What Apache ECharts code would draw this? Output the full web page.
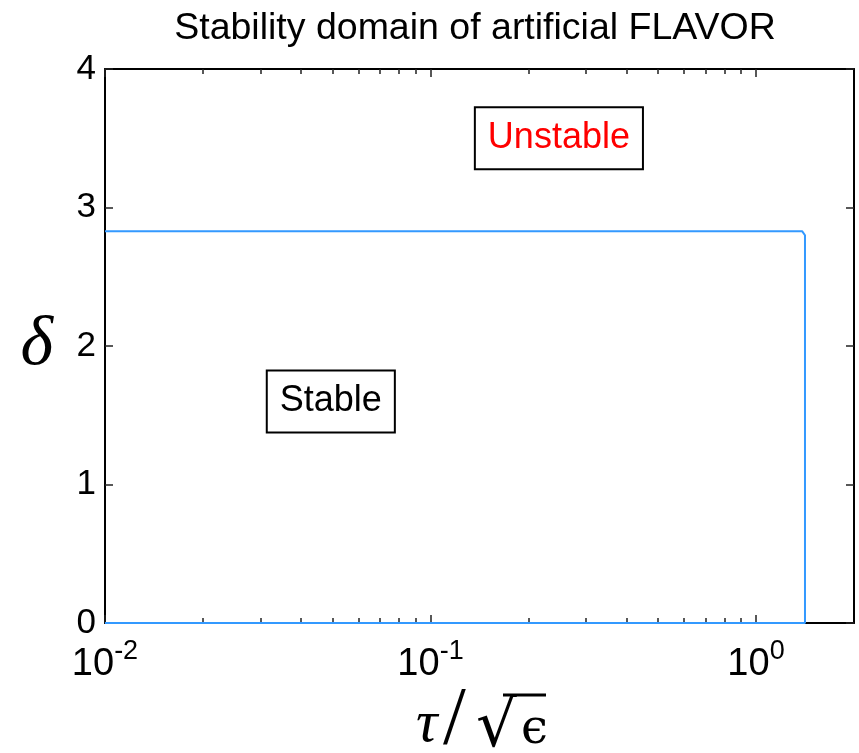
<!DOCTYPE html>
<html>
<head>
<meta charset="utf-8">
<script src="https://cdn.jsdelivr.net/npm/echarts@6/dist/echarts.min.js"></script>
<style>
html,body{margin:0;padding:0;background:#fff;}
#chart{width:859px;height:753px;}
</style>
</head>
<body>
<div id="chart"></div>
<script>
// ---- data ----
var titleText = 'Stability domain of artificial FLAVOR';
var boundaryX = [0.01, 1.414, 1.414, 1.387, 0.01];
var boundaryY = [0, 0, 2.80, 2.828, 2.828];
var xMajorTicks = [0.01, 0.1, 1];
var xMinorTicks = [0.02, 0.03, 0.04, 0.05, 0.06, 0.07, 0.08, 0.09,
                   0.2, 0.3, 0.4, 0.5, 0.6, 0.7, 0.8, 0.9];
var xRange = [0.01, 2];
var yRange = [0, 4];
var yTickStep = 1;
var annotationNames = ['Stable', 'Unstable'];
var annotationX = [0.0494, 0.248];
var annotationY = [1.60, 3.50];
var annotationColors = ['#000000', '#ff0000'];

var FONT = 'Liberation Sans';
var SERIF = 'Liberation Serif';

var chart = echarts.init(document.getElementById('chart'));

function sup(v) {
  var e = Math.round(Math.log(v) / Math.LN10);
  return '{b|10}{s|' + e + '}';
}

var lineData = boundaryX.map(function (x, i) { return [x, boundaryY[i]]; });
var annData = annotationNames.map(function (n, i) {
  return {
    name: n,
    value: [annotationX[i], annotationY[i]],
    label: { color: annotationColors[i] }
  };
});

function xAxisBase(pos, ticks, len, showLine) {
  return {
    type: 'log', logBase: 10, min: xRange[0], max: xRange[1], position: pos,
    axisLine: { show: showLine, onZero: false, lineStyle: { color: '#000', width: 2 } },
    axisTick: { show: true, inside: true, length: len, customValues: ticks,
                lineStyle: { color: '#222', width: 1.5 } },
    axisLabel: { show: false },
    splitLine: { show: false },
    minorTick: { show: false }
  };
}

var xMain = xAxisBase('bottom', xMajorTicks, 8, true);
xMain.axisLabel = {
  show: true, customValues: xMajorTicks, margin: 9,
  formatter: function (v) { return sup(v); },
  rich: {
    b: { fontFamily: FONT, fontSize: 38, color: '#000', padding: [14, 0, 0, 0], verticalAlign: 'bottom' },
    s: { fontFamily: FONT, fontSize: 27, color: '#000', padding: [6, 0, 0, 0], verticalAlign: 'top' }
  }
};

var option = {
  animation: false,
  backgroundColor: '#fff',
  title: {
    text: titleText, left: 470, textAlign: 'center', top: 5,
    textStyle: { fontFamily: FONT, fontSize: 37.5, fontWeight: 'normal', color: '#000' }
  },
  grid: { left: 105, right: 5, top: 69, bottom: 130 },
  xAxis: [
    xMain,
    xAxisBase('top', xMajorTicks, 8, true),
    xAxisBase('bottom', xMinorTicks, 5, false),
    xAxisBase('top', xMinorTicks, 5, false)
  ],
  yAxis: [
    {
      type: 'value', min: yRange[0], max: yRange[1], interval: yTickStep, position: 'left',
      name: 'δ', nameLocation: 'middle', nameRotate: 0, nameGap: 52,
      nameTextStyle: { fontFamily: SERIF, fontStyle: 'italic', fontSize: 70, color: '#000' },
      axisLine: { show: true, onZero: false, lineStyle: { color: '#000', width: 2 } },
      axisTick: { show: true, inside: true, length: 8, lineStyle: { color: '#222', width: 1.5 } },
      axisLabel: { fontFamily: FONT, fontSize: 35, color: '#000', margin: 9 },
      splitLine: { show: false }
    },
    {
      type: 'value', min: yRange[0], max: yRange[1], interval: yTickStep, position: 'right',
      axisLine: { show: true, onZero: false, lineStyle: { color: '#000', width: 2 } },
      axisTick: { show: true, inside: true, length: 8, lineStyle: { color: '#222', width: 1.5 } },
      axisLabel: { show: false },
      splitLine: { show: false }
    }
  ],
  series: [
    {
      type: 'line', xAxisIndex: 0, yAxisIndex: 0, data: lineData,
      showSymbol: false, symbol: 'none', z: 3,
      lineStyle: { color: '#3399ff', width: 2 }
    },
    {
      type: 'scatter', xAxisIndex: 0, yAxisIndex: 0, data: annData,
      symbol: 'rect', symbolSize: 0, itemStyle: { color: '#000', opacity: 1 }, z: 5,
      emphasis: { disabled: true },
      label: {
        show: true, position: 'inside', formatter: '{b}',
        fontFamily: FONT, fontSize: 36, textBorderWidth: 0, textShadowBlur: 0, opacity: 1,
        backgroundColor: '#fff', borderColor: '#000', borderWidth: 2,
        padding: [12, 12, 12, 12]
      }
    }
  ],
  graphic: [
    {
      type: 'group', x: 0, y: 0,
      children: [
        { type: 'text', x: 416, y: 755, style: { text: 'τ', fontFamily: SERIF, fontStyle: 'italic', fontSize: 60, fill: '#000', verticalAlign: 'bottom' } },
        { type: 'text', x: 443, y: 762, style: { text: '/', fontFamily: SERIF, fontSize: 82, fill: '#000', verticalAlign: 'bottom' } },
        { type: 'text', x: 476, y: 761, style: { text: '√', fontFamily: 'DejaVu Sans', fontSize: 64, fill: '#000', verticalAlign: 'bottom' } },
        { type: 'line', shape: { x1: 503, y1: 695, x2: 546, y2: 695 }, style: { stroke: '#000', lineWidth: 3 } },
        { type: 'text', x: 521, y: 755, style: { text: 'ϵ', fontFamily: 'DejaVu Serif', fontSize: 48, fill: '#000', verticalAlign: 'bottom' } }
      ]
    }
  ]
};
chart.setOption(option);
</script>
</body>
</html>
